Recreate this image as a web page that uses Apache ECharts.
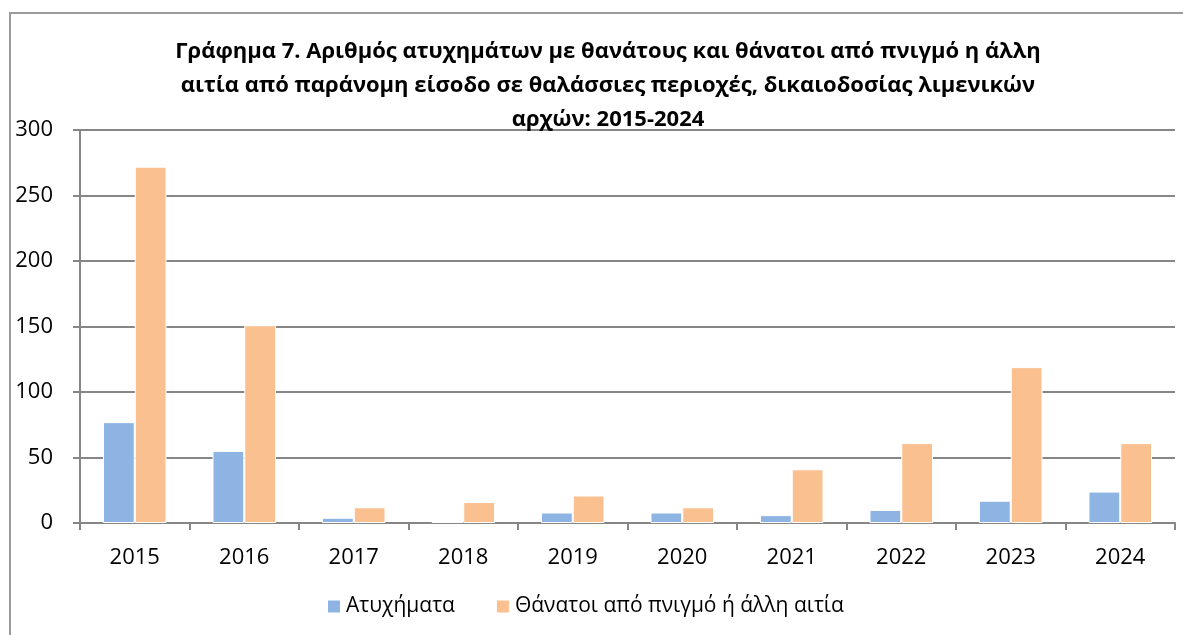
<!DOCTYPE html>
<html>
<head>
<meta charset="utf-8">
<script src="https://cdn.jsdelivr.net/npm/echarts@6/dist/echarts.min.js"></script>
<style>
  html, body { margin: 0; padding: 0; background: #fff; }
  #main { width: 1183px; height: 635px; }
</style>
</head>
<body>
<div id="main"></div>
<script>
// 数据
const years = ['2015', '2016', '2017', '2018', '2019', '2020', '2021', '2022', '2023', '2024'];
const accidents = [77, 55, 4, 1, 8, 8, 6, 10, 17, 24];
const deaths = [272, 151, 12, 16, 21, 12, 41, 61, 119, 61];
const yTicks = [0, 50, 100, 150, 200, 250, 300];

const titleText = 'Γράφημα 7. Αριθμός ατυχημάτων με θανάτους και θάνατοι από πνιγμό η άλλη\n' +
  'αιτία από παράνομη είσοδο σε θαλάσσιες περιοχές, δικαιοδοσίας λιμενικών\n' +
  'αρχών: 2015-2024';

const chart = echarts.init(document.getElementById('main'));

const option = {
  animation: false,
  color: ['#8EB4E3', '#FAC090'],
  textStyle: { fontFamily: 'Open Sans, sans-serif' },
  graphic: [{
    type: 'rect',
    shape: { x: 10, y: 13, width: 1200, height: 700 },
    style: { fill: 'none', stroke: '#9a9a9a', lineWidth: 2 },
    silent: true
  }],
  title: {
    text: titleText,
    left: 603,
    top: 30,
    textAlign: 'center',
    textStyle: {
      fontFamily: 'Open Sans, sans-serif',
      fontSize: 22,
      fontWeight: 'bold',
      lineHeight: 34,
      color: '#000'
    }
  },
  legend: {
    data: ['Ατυχήματα', 'Θάνατοι από πνιγμό ή άλλη αιτία'],
    left: 321,
    top: 591,
    itemWidth: 14,
    itemHeight: 14,
    itemGap: 40,
    itemTextGap: 4,
    icon: 'rect',
    textStyle: { fontSize: 21, color: '#000' }
  },
  grid: {
    left: 80,
    right: 8,
    top: 130,
    bottom: 112
  },
  xAxis: {
    type: 'category',
    data: years,
    axisLine: { lineStyle: { color: '#868686', width: 2 } },
    axisTick: { show: true, length: 7, lineStyle: { color: '#868686', width: 2 } },
    axisLabel: { fontSize: 22, color: '#000', margin: 24 }
  },
  yAxis: {
    type: 'value',
    min: yTicks[0],
    max: yTicks[yTicks.length - 1],
    interval: 50,
    axisLine: { show: true, lineStyle: { color: '#868686', width: 2 } },
    axisTick: { show: true, length: 7, lineStyle: { color: '#868686', width: 2 } },
    axisLabel: { fontSize: 22, color: '#000', margin: 27 },
    splitLine: { lineStyle: { color: '#868686', width: 2 } }
  },
  series: [
    {
      name: 'Ατυχήματα',
      type: 'bar',
      data: accidents,
      barGap: '0%',
      barCategoryGap: '42%',
      itemStyle: { borderColor: '#ffffff', borderWidth: 1 }
    },
    {
      name: 'Θάνατοι από πνιγμό ή άλλη αιτία',
      type: 'bar',
      data: deaths,
      barGap: '0%',
      barCategoryGap: '42%',
      itemStyle: { borderColor: '#ffffff', borderWidth: 1 }
    }
  ]
};

chart.setOption(option);
</script>
</body>
</html>
